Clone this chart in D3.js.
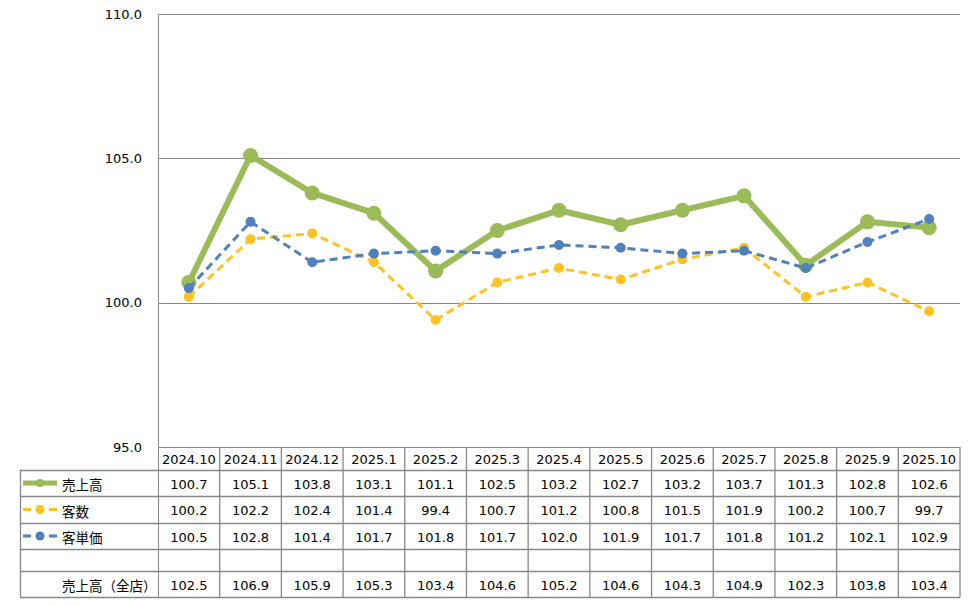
<!DOCTYPE html>
<html>
<head>
<meta charset="utf-8">
<script src="https://cdn.jsdelivr.net/npm/d3@7"></script>
<style>
  body { margin: 0; background: #fff; }
  svg { font-family: "DejaVu Sans", Verdana, sans-serif; font-size: 13px; }
  .jp { font-family: "Noto Sans CJK JP", sans-serif; font-size: 13.5px; }
  .grid { stroke: #888; stroke-width: 1; }
  .cell { stroke: #888; stroke-width: 1.3; }
</style>
</head>
<body>
<div id="chart"></div>
<script>
// Categories (months) and series
const months = ['2024.10', '2024.11', '2024.12', '2025.1', '2025.2', '2025.3', '2025.4',
  '2025.5', '2025.6', '2025.7', '2025.8', '2025.9', '2025.10'];
const sales = [100.7, 105.1, 103.8, 103.1, 101.1, 102.5, 103.2, 102.7, 103.2, 103.7, 101.3, 102.8, 102.6];
const customers = [100.2, 102.2, 102.4, 101.4, 99.4, 100.7, 101.2, 100.8, 101.5, 101.9, 100.2, 100.7, 99.7];
const unitPrice = [100.5, 102.8, 101.4, 101.7, 101.8, 101.7, 102.0, 101.9, 101.7, 101.8, 101.2, 102.1, 102.9];
const salesAll = [102.5, 106.9, 105.9, 105.3, 103.4, 104.6, 105.2, 104.6, 104.3, 104.9, 102.3, 103.8, 103.4];
const yTicks = [95, 100, 105, 110];

const width = 971;
const height = 606;
const plot = { left: 158, right: 960, top: 14, bottom: 447 };
const tableLeft = 20;
// table row boundaries (header, 3 series rows, blank row, all-store row)
const rowY = [447, 470, 496, 523, 549, 571, 597];

const series = [
  { name: '売上高', values: sales, color: '#9bbb59', width: 6, dash: null, r: 7.5 },
  { name: '客数', values: customers, color: '#ffc222', width: 3, dash: '8,5', r: 5 },
  { name: '客単価', values: unitPrice, color: '#4f81bd', width: 3, dash: '8,5', r: 5 }
];

const svg = d3.select('#chart').append('svg')
  .attr('width', width)
  .attr('height', height);

const x = d3.scaleBand().domain(months).range([plot.left, plot.right]);
const y = d3.scaleLinear().domain([95, 110]).range([plot.bottom, plot.top]);

// gridlines + y labels
svg.selectAll('.grid')
  .data(yTicks)
  .join('line')
  .attr('class', 'grid')
  .attr('x1', plot.left)
  .attr('x2', plot.right)
  .attr('y1', d => Math.round(y(d)) + 0.5)
  .attr('y2', d => Math.round(y(d)) + 0.5);

svg.selectAll('.ylab')
  .data(yTicks)
  .join('text')
  .attr('x', 142)
  .attr('y', d => y(d))
  .attr('text-anchor', 'end')
  .attr('dominant-baseline', 'central')
  .attr('fill', '#000')
  .text(d => d.toFixed(1));

// left axis line runs through the whole table
svg.append('line')
  .attr('class', 'grid')
  .attr('x1', plot.left + 0.5).attr('x2', plot.left + 0.5)
  .attr('y1', plot.top).attr('y2', rowY[rowY.length - 1]);

// Table lines
const tbl = svg.append('g');
rowY.slice(1).forEach(ry => {
  tbl.append('line').attr('class', 'cell')
    .attr('x1', tableLeft).attr('x2', plot.right)
    .attr('y1', ry + 0.5).attr('y2', ry + 0.5);
});
tbl.append('line').attr('class', 'cell')
  .attr('x1', tableLeft + 0.5).attr('x2', tableLeft + 0.5)
  .attr('y1', rowY[1]).attr('y2', rowY[rowY.length - 1]);
months.forEach((m, i) => {
  const bx = x(m) + x.bandwidth();
  tbl.append('line').attr('class', 'cell')
    .attr('x1', bx).attr('x2', bx)
    .attr('y1', rowY[0]).attr('y2', rowY[rowY.length - 1]);
});

// header labels
svg.selectAll('.hdr')
  .data(months)
  .join('text')
  .attr('x', d => x(d) + x.bandwidth() / 2)
  .attr('y', (rowY[0] + rowY[1]) / 2 + 1)
  .attr('text-anchor', 'middle')
  .attr('dominant-baseline', 'central')
  .text(d => d);

// series rows with legend keys
const tableRows = series.map(s => ({ label: s.name, values: s.values, s }))
  .concat([{ label: '', values: [] }, { label: '売上高（全店）', values: salesAll }]);

tableRows.forEach((row, ri) => {
  const cy = (rowY[ri + 1] + rowY[ri + 2]) / 2 + 1;
  if (row.s) {
    const s = row.s;
    tbl.append('line')
      .attr('x1', 23).attr('x2', 57)
      .attr('y1', cy - 1).attr('y2', cy - 1)
      .attr('stroke', s.color)
      .attr('stroke-width', s.dash ? 3 : 5)
      .attr('stroke-dasharray', s.dash ? '8,18,8' : null);
    tbl.append('circle')
      .attr('cx', 40).attr('cy', cy - 1)
      .attr('r', s.dash ? 4.5 : 4)
      .attr('fill', s.color);
  }
  tbl.append('text')
    .attr('class', 'jp')
    .attr('x', 62)
    .attr('y', cy)
    .attr('dominant-baseline', 'central')
    .text(row.label);
  tbl.selectAll(null)
    .data(row.values)
    .join('text')
    .attr('x', (d, i) => x(months[i]) + x.bandwidth() / 2)
    .attr('y', cy)
    .attr('text-anchor', 'middle')
    .attr('dominant-baseline', 'central')
    .text(d => d.toFixed(1));
});

// lines and markers
const line = d3.line()
  .x((d, i) => x(months[i]) + x.bandwidth() / 2)
  .y(d => y(d));

series.forEach(s => {
  const g = svg.append('g');
  g.append('path')
    .datum(s.values)
    .attr('d', line)
    .attr('fill', 'none')
    .attr('stroke', s.color)
    .attr('stroke-width', s.width)
    .attr('stroke-dasharray', s.dash)
    .attr('stroke-linejoin', 'round');
  g.selectAll('circle')
    .data(s.values)
    .join('circle')
    .attr('cx', (d, i) => x(months[i]) + x.bandwidth() / 2)
    .attr('cy', d => y(d))
    .attr('r', s.r)
    .attr('fill', s.color);
});
</script>
</body>
</html>
